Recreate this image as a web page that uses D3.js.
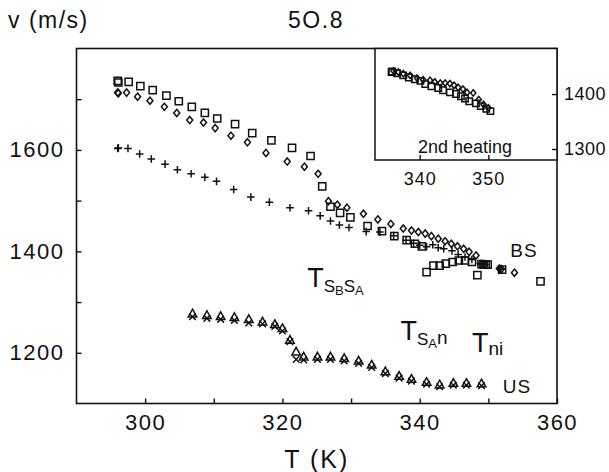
<!DOCTYPE html>
<html>
<head>
<meta charset="utf-8">
<script src="https://cdn.jsdelivr.net/npm/d3@7"></script>
<style>
  body { margin: 0; background: #fff; }
  svg { display: block; font-family: "Liberation Sans", Arial, Helvetica, sans-serif; }
</style>
</head>
<body>
<div id="chart"></div>
<script>
// sound velocity v (m/s) against temperature T (K), first heating
const bsSquares = [
  [296.0,1736],[296.1,1733],[297.6,1734],[299.3,1726],[301.1,1718],[303.1,1707],[304.9,1696],
  [306.8,1685],[308.7,1673],[310.5,1662],[313.1,1651],[315.6,1633],[318.4,1619],[321.4,1604],
  [324.1,1588],[325.8,1528],[327.0,1488],[328.4,1476],[329.9,1467],[332.4,1450],[334.5,1440],
  [336.3,1430],[338.1,1422],[339.3,1415],[340.3,1410]
];
// squares on the lower branch near the transition, plus the last ones above 350 K
const bsSquaresLow = [
  [341.0,1359],[342.0,1372],[342.9,1372],[343.8,1376],[344.8,1379],[345.7,1382],[346.6,1382],
  [347.6,1379],[348.4,1353],[349.0,1375],[349.3,1374],[349.6,1374],[349.9,1374],[352.0,1364],
  [357.6,1341]
];
const bsDiamonds = [
  [296.0,1713],[296.1,1712],[297.3,1713],[298.9,1705],[300.7,1697],[302.8,1685],[304.6,1673],
  [306.5,1659],[308.5,1654],[310.2,1643],[312.5,1628],[314.9,1615],[317.6,1594],[320.7,1577],
  [323.2,1567],[325.2,1553],[326.7,1499],[328.0,1492],[329.4,1486],[331.8,1474],[333.9,1463],
  [335.8,1454],[337.6,1445],[338.8,1441],[339.8,1438],[340.8,1435],[341.7,1430],[342.7,1425],
  [343.7,1420],[344.6,1415],[345.5,1410],[346.4,1405],[347.2,1399],[348.2,1392],[349.0,1375],
  [349.5,1374],[351.6,1366],[351.9,1365],[353.8,1358]
];
const bsCrosses = [
  [296.0,1603],[296.1,1604],[297.5,1603],[299.2,1592],[300.9,1582],[302.9,1572],[304.7,1561],
  [306.7,1553],[308.7,1546],[310.4,1538],[312.9,1522],[315.4,1507],[318.1,1497],[321.1,1486],
  [323.8,1480],[325.5,1470],[327.0,1460],[328.3,1452],[329.7,1447],[332.2,1439],[334.2,1438],
  [336.2,1431],[338.0,1422],[339.1,1416],[340.0,1412],[341.0,1409],[341.9,1413],[342.7,1407],
  [343.5,1405],[344.7,1401],[345.6,1394],[346.6,1389],[347.6,1384],[348.8,1376],[349.3,1374],
  [351.8,1365]
];
const usTriangles = [
  [306.9,1277],[309.0,1274],[311.0,1272],[313.0,1270],[315.1,1266],[317.1,1261],[318.9,1256],
  [320.0,1248],[321.1,1225],[322.0,1202],[323.1,1192],[325.1,1192],[327.0,1192],[329.0,1189],
  [331.1,1184],[333.0,1176],[335.0,1163],[337.0,1154],[338.8,1148],[341.0,1142],[342.9,1137],
  [344.9,1140],[346.8,1140],[349.0,1139]
];
const usCrosses = [
  [306.9,1271],[309.0,1268],[311.0,1266],[313.0,1264],[315.1,1259],[317.1,1257],[318.9,1252],
  [320.0,1243],[321.1,1222],[322.0,1187],[323.1,1186],[325.1,1187],[327.0,1187],[329.0,1184],
  [331.1,1179],[333.0,1171],[335.0,1159],[337.0,1150],[338.8,1144],[341.0,1138],[342.9,1133],
  [344.9,1136],[346.8,1136],[349.0,1135]
];
// second heating (inset)
const insetDiamonds = [
  [336.2,1442],[336.9,1440],[337.6,1437],[338.6,1434],[339.6,1429],[340.5,1426],[341.5,1425],
  [342.2,1422],[343.0,1420],[343.7,1420],[344.4,1419],[345.0,1416],[345.6,1412],[346.3,1409],
  [346.9,1403],[347.8,1402],[348.6,1390],[349.3,1381],[350.0,1375]
];
const insetSquares = [
  [335.9,1440],[336.0,1441],[336.7,1438],[337.6,1434],[338.4,1430],[339.3,1427],[340.1,1424],
  [340.8,1418],[341.7,1414],[342.7,1411],[343.4,1407],[344.4,1403],[345.3,1400],[346.0,1396],
  [346.6,1392],[347.2,1387],[348.2,1383],[348.9,1378],[349.7,1373],[350.3,1369]
];

const xTicks = [300, 310, 320, 330, 340, 350, 360];
const yTicks = [1200, 1300, 1400, 1500, 1600, 1700];
const insetXTicks = [340, 350];
const insetYTicks = [1300, 1400];

const W = 609, H = 472;
const svg = d3.select('#chart').append('svg').attr('width', W).attr('height', H);

const x = d3.scaleLinear().domain([290, 360]).range([76.5, 557]);
const y = d3.scaleLinear().domain([1100, 1800]).range([403.5, 48.5]);

// inset shares the main temperature scale
const insetLeft = 375, insetBottom = 160;
const iy = d3.scaleLinear().domain([1280, 1482]).range([insetBottom, 49]);

// marker shapes
const sq = s => `M${-s},${-s}H${s}V${s}H${-s}Z`;
const dia = (w, h) => `M0,${-h}L${w},0L0,${h}L${-w},0Z`;
const plus = r => `M${-r},0H${r}M0,${-r}V${r}`;
const cross = r => `M${-r},${-r}L${r},${r}M${r},${-r}L${-r},${r}`;
const tri = r => `M0,${-r}L${r * 0.95},${r * 0.7}L${-r * 0.95},${r * 0.7}Z`;

function plot(g, data, sx, sy, path, cls) {
  g.append('g').attr('class', cls).selectAll('path').data(data).join('path')
    .attr('transform', d => `translate(${sx(d[0])},${sy(d[1])})`)
    .attr('d', path)
    .attr('fill', 'none').attr('stroke', '#111').attr('stroke-width', 1.5);
}

function styleAxis(a, size, spacing) {
  a.select('.domain').remove();
  a.selectAll('line').attr('stroke', '#111').attr('stroke-width', 1.4);
  a.selectAll('text').attr('fill', '#111').style('font-size', size + 'px').style('letter-spacing', spacing + 'px')
    .style('font-family', '"Liberation Sans", Arial, sans-serif');
}

// axes, ticks pointing inward
const xAxis = svg.append('g').attr('transform', `translate(0,${y.range()[0]})`)
  .call(d3.axisBottom(x).tickValues(xTicks).tickSize(-5).tickPadding(11)
    .tickFormat(d => d % 20 === 0 ? d : ''));
const yAxis = svg.append('g').attr('transform', `translate(${x.range()[0]},0)`)
  .call(d3.axisLeft(y).tickValues(yTicks).tickSize(-5).tickPadding(12)
    .tickFormat(d => d % 200 === 0 ? d : ''));
styleAxis(xAxis, 22, 1.5);
styleAxis(yAxis, 22, 1.5);

svg.append('rect')
  .attr('x', x.range()[0]).attr('y', y.range()[1])
  .attr('width', x.range()[1] - x.range()[0]).attr('height', y.range()[0] - y.range()[1])
  .attr('fill', 'none').attr('stroke', '#111').attr('stroke-width', 1.6);

const main = svg.append('g');
plot(main, bsSquares, x, y, sq(3.6), 'bs-sq');
plot(main, bsSquaresLow, x, y, sq(3.6), 'bs-sq-low');
plot(main, bsDiamonds, x, y, dia(3, 3.6), 'bs-dia');
plot(main, bsCrosses, x, y, plus(3.8), 'bs-plus');
plot(main, usTriangles, x, y, tri(4.5), 'us-tri');
plot(main, usCrosses, x, y, cross(3.3), 'us-x');

// inset: second heating
const inset = svg.append('g');
inset.append('rect')
  .attr('x', insetLeft).attr('y', y.range()[1])
  .attr('width', x.range()[1] - insetLeft).attr('height', insetBottom - y.range()[1])
  .attr('fill', '#fff').attr('stroke', '#111').attr('stroke-width', 1.5);
const ixAxis = inset.append('g').attr('transform', `translate(0,${insetBottom})`)
  .call(d3.axisBottom(x).tickValues(insetXTicks).tickSize(-5).tickPadding(12).tickFormat(d3.format('d')));
const iyAxis = inset.append('g').attr('transform', `translate(${x.range()[1]},0)`)
  .call(d3.axisRight(iy).tickValues(insetYTicks).tickSize(-5).tickPadding(7).tickFormat(d3.format('d')));
styleAxis(ixAxis, 18, 1);
styleAxis(iyAxis, 18, 0.5);
plot(inset, insetDiamonds, x, iy, dia(2.6, 3.2), 'in-dia');
plot(inset, insetSquares, x, iy, sq(3.2), 'in-sq');
inset.append('text').attr('x', 465).attr('y', 153).attr('text-anchor', 'middle')
  .style('font-size', '18px').attr('fill', '#111').text('2nd heating');

// titles
svg.append('text').attr('x', 8).attr('y', 28).style('font-size', '23px')
  .style('letter-spacing', '1.5px').attr('fill', '#111').text('v (m/s)');
svg.append('text').attr('x', 316).attr('y', 28).attr('text-anchor', 'middle').style('font-size', '23px')
  .style('letter-spacing', '1.5px').attr('fill', '#111').text('5O.8');
svg.append('text').attr('x', (x.range()[0] + x.range()[1]) / 2).attr('y', 468).attr('text-anchor', 'middle')
  .style('font-size', '25px').style('letter-spacing', '2px').attr('fill', '#111').text('T (K)');

// series names
svg.append('text').attr('x', x(353.2)).attr('y', y(1388)).style('font-size', '19px')
  .style('letter-spacing', '1px').attr('fill', '#111').text('BS');
svg.append('text').attr('x', x(352.1)).attr('y', y(1121)).style('font-size', '19px')
  .style('letter-spacing', '1px').attr('fill', '#111').text('US');

// transition temperatures
function tLabel(t, v, parts) {
  const txt = svg.append('text').attr('x', x(t)).attr('y', y(v)).attr('fill', '#111');
  txt.append('tspan').style('font-size', '27px').text('T');
  parts.forEach(p => txt.append('tspan').attr('dy', p.dy).style('font-size', p.size + 'px').text(p.s));
}
tLabel(323.6, 1329, [
  { s: 'S', size: 17, dy: 5 }, { s: 'B', size: 13, dy: 3 },
  { s: 'S', size: 17, dy: -3 }, { s: 'A', size: 13, dy: 3 }
]);
tLabel(337.2, 1225, [
  { s: 'S', size: 17, dy: 5 }, { s: 'A', size: 13, dy: 3 }, { s: 'n', size: 19, dy: -4 }
]);
tLabel(347.6, 1201, [{ s: 'ni', size: 19, dy: 3 }]);
</script>
</body>
</html>
